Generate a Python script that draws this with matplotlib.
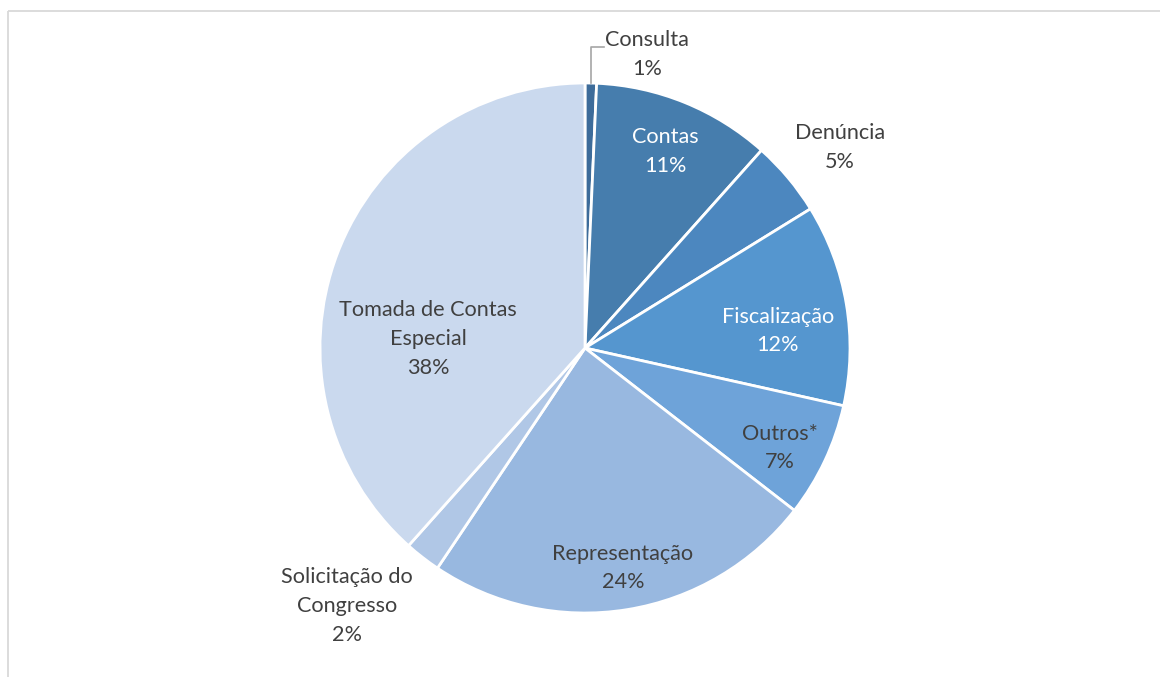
import numpy as np
import matplotlib.pyplot as plt
from matplotlib.patches import Rectangle

# categories, clockwise from 12 o'clock
categories = ["Consulta", "Contas", "Denúncia", "Fiscalização", "Outros*",
              "Representação", "Solicitação do\nCongresso",
              "Tomada de Contas\nEspecial"]
shares = [0.7, 10.9, 4.6, 12.3, 7.0, 23.9, 2.2, 38.4]
pct_labels = ["1%", "11%", "5%", "12%", "7%", "24%", "2%", "38%"]

colors = ["#3D6C9A", "#467DAD", "#4C87BF", "#5596CF", "#6EA3D9",
          "#98B8E0", "#B0C7E6", "#CAD9EE"]
text_colors = ["#404040", "white", "#404040", "white", "#404040",
               "#404040", "#404040", "#404040"]
# label centres in data units (pie radius = 1)
label_pos = [(0.234, 1.109), (0.302, 0.743), (0.962, 0.758), (0.728, 0.064),
             (0.736, -0.377), (0.143, -0.830), (-0.898, -0.974),
             (-0.592, 0.034)]


def main():
    W, H = 1160, 677
    fig = plt.figure(figsize=(W / 100, H / 100), dpi=100)
    plt.rcParams['font.family'] = ['Lato', 'DejaVu Sans']

    # light frame, clipped at right and bottom like the source
    frame = fig.add_axes([0, 0, 1, 1])
    frame.set_xlim(0, W)
    frame.set_ylim(H, 0)
    frame.axis('off')
    frame.add_patch(Rectangle((8, 11), W + 20, H + 20, fill=False,
                              edgecolor="#D9D9D9", linewidth=1.3))

    cx, cy, r = 585, 348, 265
    ax = fig.add_axes([(cx - r) / W, (H - cy - r) / H, 2 * r / W, 2 * r / H])
    ax.pie(shares, colors=colors, startangle=90, counterclock=False,
           radius=1.0,
           wedgeprops=dict(edgecolor="white", linewidth=2.0))
    ax.set_xlim(-1, 1)
    ax.set_ylim(-1, 1)
    ax.set_aspect('equal')
    ax.axis('off')

    for name, pct, (x, y), tc in zip(categories, pct_labels, label_pos,
                                     text_colors):
        ax.text(x, y, name + "\n" + pct, ha="center", va="center",
                fontsize=15.6, color=tc, linespacing=1.55, clip_on=False)

    # leader line for Consulta
    ax.plot([0.023, 0.023, 0.072], [1.0, 1.136, 1.136], color="#A6A6A6",
            linewidth=1.2, clip_on=False)

    fig.savefig("out.png", dpi=100)


if __name__ == "__main__":
    main()
